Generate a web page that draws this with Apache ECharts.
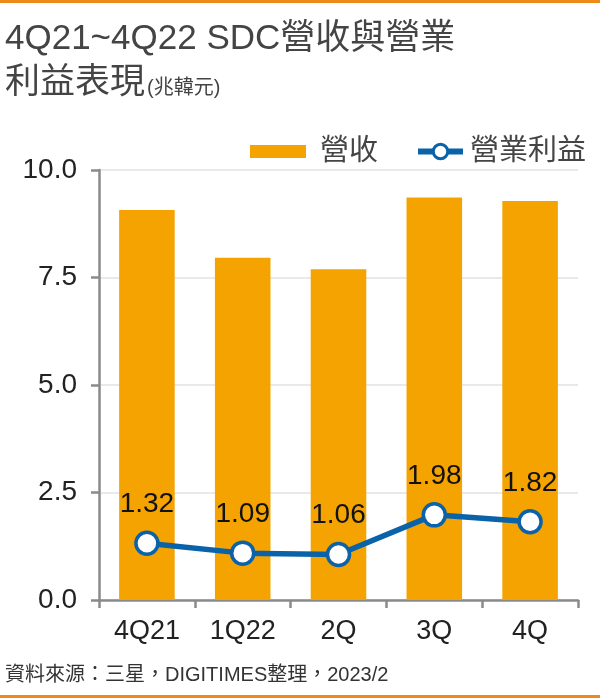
<!DOCTYPE html>
<html><head><meta charset="utf-8">
<script src="https://cdn.jsdelivr.net/npm/echarts@6/dist/echarts.min.js"></script>
<style>html,body{margin:0;padding:0;background:#fff;}#c{width:600px;height:698px;}</style>
</head><body><div id="c"></div>
<script>
const categories = ['4Q21', '1Q22', '2Q', '3Q', '4Q'];
const revenue = [9.07, 7.96, 7.69, 9.36, 9.28];
const opProfit = [1.32, 1.09, 1.06, 1.98, 1.82];
const yTicks = [0, 2.5, 5, 7.5, 10];
const titleLine1 = '4Q21~4Q22 SDC營收與營業';
const titleLine2 = '利益表現';
const unitText = '(兆韓元)';
const sourceText = '資料來源：三星，DIGITIMES整理，2023/2';

const FONT = '"Liberation Sans", Arial, "Noto Sans CJK TC", sans-serif';
const chart = echarts.init(document.getElementById('c'), null, {renderer: 'canvas'});
chart.setOption({
  animation: false,
  backgroundColor: '#fff',
  textStyle: {fontFamily: FONT},
  grid: {left: 99, right: 22, top: 170, bottom: 98, containLabel: false},
  legend: [
    {data: [{name: '營收', icon: 'rect'}], left: 245, top: 132, itemWidth: 56, itemHeight: 13,
     textStyle: {fontSize: 29, color: '#444', fontFamily: FONT, padding: [0, 0, 0, 9]}},
    {data: ['營業利益'], left: 410, top: 132, itemWidth: 45, itemHeight: 18,
     lineStyle: {width: 6, color: '#0A62A9'},
     itemStyle: {color: '#fff', borderColor: '#0A62A9', borderWidth: 3},
     textStyle: {fontSize: 29, color: '#444', fontFamily: FONT, padding: [0, 0, 0, 2]}}
  ],
  xAxis: {
    type: 'category', data: categories,
    axisLine: {lineStyle: {color: '#8a8a8a', width: 2.5}},
    axisTick: {show: true, length: 8, lineStyle: {color: '#8a8a8a', width: 2.5}},
    axisLabel: {fontSize: 27, color: '#222', margin: 18, fontFamily: FONT}
  },
  yAxis: {
    type: 'value', min: 0, max: 10, interval: 2.5,
    axisLine: {show: true, lineStyle: {color: '#8a8a8a', width: 2.5}},
    axisTick: {show: true, length: 8, lineStyle: {color: '#8a8a8a', width: 2.5}},
    splitLine: {lineStyle: {color: '#e2e2e2', width: 1.5}},
    axisLabel: {fontSize: 28, color: '#222', margin: 22, fontFamily: FONT,
      formatter: v => yTicks.includes(v) ? v.toFixed(1) : ''}
  },
  series: [
    {name: '營收', type: 'bar', data: revenue, barWidth: '58%',
     itemStyle: {color: '#F5A300'}},
    {name: '營業利益', type: 'line', data: opProfit, symbol: 'circle', symbolSize: 22,
     lineStyle: {color: '#0A62A9', width: 5.5},
     itemStyle: {color: '#fff', borderColor: '#0A62A9', borderWidth: 3.5},
     label: {show: true, position: 'top', distance: 12, fontSize: 28, color: '#111',
       fontFamily: FONT, formatter: p => p.value.toFixed(2)}}
  ],
  graphic: [
    {type: 'rect', shape: {x: 0, y: 0, width: 600, height: 3}, style: {fill: '#EE8A1A'}},
    {type: 'rect', shape: {x: 0, y: 695, width: 600, height: 3}, style: {fill: '#EE8A1A'}},
    {type: 'text', x: 5, y: 39, style: {text: titleLine1, font: '35px ' + FONT, fill: '#444', verticalAlign: 'middle'}},
    {type: 'text', x: 5, y: 83, style: {text: titleLine2, font: '35px ' + FONT, fill: '#444', verticalAlign: 'middle'}},
    {type: 'text', x: 147, y: 88, style: {text: unitText, font: '20px ' + FONT, fill: '#444', verticalAlign: 'middle'}},
    {type: 'text', x: 5, y: 675, style: {text: sourceText, font: '20px ' + FONT, fill: '#333', verticalAlign: 'middle'}}
  ]
});
</script></body></html>
